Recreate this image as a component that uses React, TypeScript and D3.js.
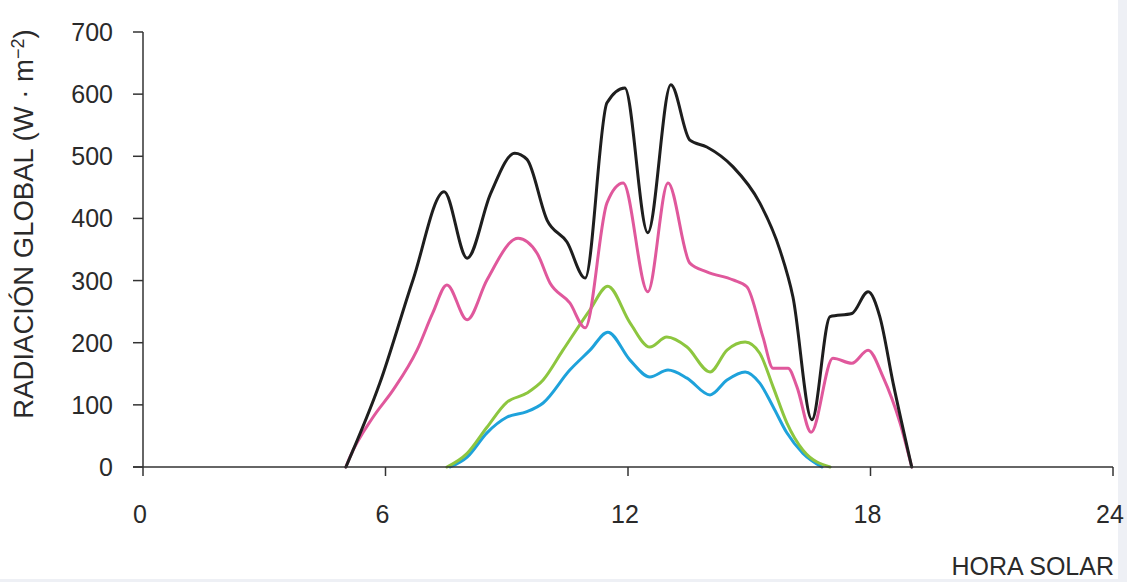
import React from "react";
import * as d3 from "d3";

const xTicks = [0, 6, 12, 18, 24];
const yTicks = [0, 100, 200, 300, 400, 500, 600, 700];

const blackHours = [5.02, 5.86, 6.68, 7.45, 8.02, 8.6, 9.2, 9.5, 10.0, 10.49, 10.94, 11.48, 11.92, 12.49, 13.06, 13.53, 13.95, 14.6, 15.26, 15.76, 16.08, 16.55, 17.0, 17.54, 17.94, 18.23, 18.56, 19.02];
const blackValues = [0, 135, 301, 443, 336, 440, 505, 495, 397, 362, 304, 586, 610, 377, 615, 526, 515, 483, 425, 349, 274, 76, 242, 247, 282, 242, 135, 0];

const pinkHours = [5.02, 5.12, 5.69, 6.19, 6.78, 7.17, 7.52, 8.02, 8.51, 9.28, 9.75, 10.07, 10.56, 10.94, 11.48, 11.88, 12.49, 12.99, 13.53, 13.95, 14.6, 14.94, 15.34, 15.59, 15.96, 16.18, 16.53, 17.07, 17.54, 17.94, 18.31, 18.73, 19.02];
const pinkValues = [0, 16, 80, 124, 188, 248, 293, 237, 301, 368, 344, 296, 264, 224, 425, 457, 282, 457, 328, 314, 301, 290, 209, 159, 159, 129, 56, 175, 167, 188, 145, 71, 0];

const greenHours = [7.52, 8.02, 8.51, 9.0, 9.5, 9.9, 10.39, 11.06, 11.5, 12.05, 12.54, 12.96, 13.46, 14.03, 14.45, 14.9, 15.26, 15.59, 15.93, 16.33, 17.0];
const greenValues = [0, 22, 64, 104, 119, 140, 188, 253, 291, 232, 193, 209, 193, 153, 188, 201, 183, 129, 71, 27, 0];

const blueHours = [7.6, 8.02, 8.51, 9.0, 9.5, 9.9, 10.56, 11.06, 11.5, 12.05, 12.54, 12.99, 13.46, 14.03, 14.45, 14.9, 15.26, 15.59, 15.93, 16.33, 16.8];
const blueValues = [0, 16, 55, 80, 89, 103, 156, 188, 217, 172, 145, 156, 143, 116, 140, 153, 135, 97, 55, 22, 0];

const series = [
  { name: "black", hours: blackHours, values: blackValues, color: "#1e1e1e" },
  { name: "pink", hours: pinkHours, values: pinkValues, color: "#e0589c" },
  { name: "green", hours: greenHours, values: greenValues, color: "#8dc63f" },
  { name: "blue", hours: blueHours, values: blueValues, color: "#1ea2db" },
];

const W = 1127;
const H = 582;
const FONT = "'Liberation Sans', Arial, Helvetica, sans-serif";

export default function App() {
  const x = d3.scaleLinear().domain([0, 24]).range([143, 1113]);
  const y = d3.scaleLinear().domain([0, 700]).range([467, 32]);
  const line = d3
    .line<[number, number]>()
    .x((d) => x(d[0]))
    .y((d) => y(d[1]))
    .curve(d3.curveMonotoneX);
  const axisColor = "#333";
  const textColor = "#2a2a2a";
  return (
    <svg width={W} height={H} style={{ position: "absolute", left: 0, top: 0, background: "#fff" }}>
      <rect x={1118} y={0} width={9} height={H} fill="#eef0f5" />
      <rect x={0} y={579} width={W} height={3} fill="#eef0f5" />
      {series
        .slice()
        .reverse()
        .map((s) => (
          <path
            key={s.name}
            d={line(s.hours.map((h, i) => [h, s.values[i]] as [number, number])) || ""}
            fill="none"
            stroke={s.color}
            strokeWidth={3}
            strokeLinejoin="round"
            strokeLinecap="round"
          />
        ))}
      {/* y axis */}
      <line x1={x(0)} x2={x(0)} y1={y(700)} y2={y(0)} stroke={axisColor} strokeWidth={1.5} />
      {yTicks.map((t) => (
        <g key={"y" + t}>
          <line x1={x(0) - 10} x2={x(0)} y1={y(t)} y2={y(t)} stroke={axisColor} strokeWidth={1.5} />
          <text x={113} y={y(t)} dy="0.36em" textAnchor="end" fontFamily={FONT} fontSize={25} fill={textColor}>
            {t}
          </text>
        </g>
      ))}
      {/* x axis */}
      <line x1={x(0) - 10} x2={x(24)} y1={y(0)} y2={y(0)} stroke={axisColor} strokeWidth={1.5} />
      {xTicks.map((t) => (
        <g key={"x" + t}>
          <line x1={x(t)} x2={x(t)} y1={y(0)} y2={y(0) + 9} stroke={axisColor} strokeWidth={1.5} />
          <text x={x(t) - 3} y={514} dy="0.36em" textAnchor="middle" fontFamily={FONT} fontSize={25} fill={textColor}>
            {t}
          </text>
        </g>
      ))}
      <text x={1114} y={575} textAnchor="end" fontFamily={FONT} fontSize={25} fill={textColor}>
        HORA SOLAR
      </text>
      <text
        transform={`translate(33, 224) rotate(-90)`}
        textAnchor="middle"
        fontFamily={FONT}
        fontSize={27.5}
        fill={textColor}
      >
        RADIACIÓN GLOBAL (W · m
        <tspan dy="-9" fontSize={18}>−2</tspan>
        <tspan dy="9">)</tspan>
      </text>
    </svg>
  );
}
